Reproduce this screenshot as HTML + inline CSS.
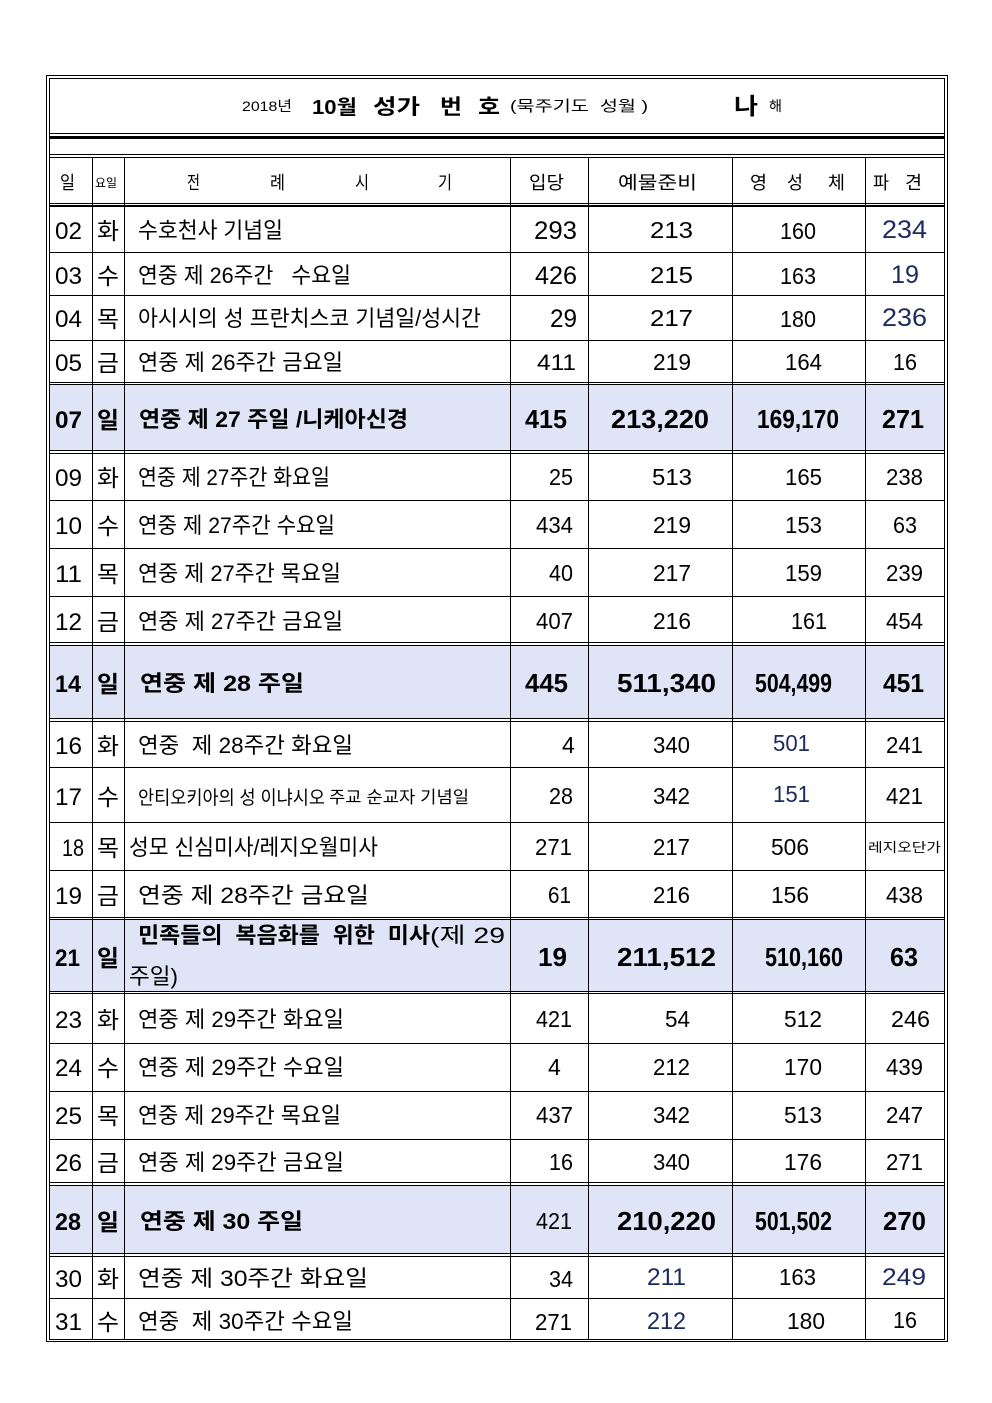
<!DOCTYPE html>
<html><head><meta charset="utf-8">
<style>
html,body{margin:0;padding:0;background:#fff;}
svg{display:block;}
text{font-family:"Liberation Sans","Noto Sans CJK KR","NanumGothic",sans-serif;fill:#000;white-space:pre;}
.b{font-weight:bold;}
.nv{fill:#1c2a5e;}
</style></head>
<body>
<svg width="992" height="1403" viewBox="0 0 992 1403" xmlns="http://www.w3.org/2000/svg" shape-rendering="crispEdges" xml:space="preserve">
<rect x="0" y="0" width="992" height="1403" fill="#fff"/>
<g fill="#dfe4f7">
<rect x="50" y="385" width="894" height="65"/>
<rect x="50" y="646" width="894" height="72"/>
<rect x="50" y="920" width="894" height="71"/>
<rect x="50" y="1186" width="894" height="67"/>
</g>
<g fill="#000">
<rect x="46" y="75" width="902" height="1"/>
<rect x="46" y="75" width="1" height="1267"/>
<rect x="947" y="75" width="1" height="1267"/>
<rect x="46" y="1341" width="902" height="1"/>
<rect x="49" y="78" width="896" height="1"/>
<rect x="49" y="78" width="1" height="1262"/>
<rect x="944" y="78" width="1" height="1262"/>
<rect x="49" y="1339" width="896" height="1"/>
<rect x="49" y="133" width="896" height="1"/>
<rect x="49" y="136" width="896" height="3"/>
<rect x="49" y="154" width="896" height="1"/>
<rect x="49" y="157" width="896" height="1"/>
<rect x="49" y="203" width="896" height="1"/>
<rect x="49" y="205" width="896" height="2"/>
<rect x="92" y="157" width="1" height="1182"/>
<rect x="124" y="157" width="1" height="1182"/>
<rect x="510" y="157" width="1" height="1182"/>
<rect x="588" y="157" width="1" height="1182"/>
<rect x="732" y="157" width="1" height="1182"/>
<rect x="865" y="157" width="1" height="1182"/>
<rect x="49" y="252" width="896" height="1"/>
<rect x="49" y="295" width="896" height="1"/>
<rect x="49" y="340" width="896" height="1"/>
<rect x="49" y="382" width="896" height="1"/>
<rect x="49" y="384" width="896" height="1"/>
<rect x="49" y="450" width="896" height="1"/>
<rect x="49" y="453" width="896" height="1"/>
<rect x="49" y="500" width="896" height="1"/>
<rect x="49" y="548" width="896" height="1"/>
<rect x="49" y="596" width="896" height="1"/>
<rect x="49" y="642" width="896" height="1"/>
<rect x="49" y="645" width="896" height="1"/>
<rect x="49" y="718" width="896" height="1"/>
<rect x="49" y="721" width="896" height="1"/>
<rect x="49" y="767" width="896" height="1"/>
<rect x="49" y="822" width="896" height="1"/>
<rect x="49" y="870" width="896" height="1"/>
<rect x="49" y="917" width="896" height="1"/>
<rect x="49" y="919" width="896" height="1"/>
<rect x="49" y="991" width="896" height="1"/>
<rect x="49" y="993" width="896" height="1"/>
<rect x="49" y="1043" width="896" height="1"/>
<rect x="49" y="1091" width="896" height="1"/>
<rect x="49" y="1139" width="896" height="1"/>
<rect x="49" y="1182" width="896" height="1"/>
<rect x="49" y="1185" width="896" height="1"/>
<rect x="49" y="1253" width="896" height="1"/>
<rect x="49" y="1256" width="896" height="1"/>
<rect x="49" y="1298" width="896" height="1"/>
</g>

<g>
<text x="242" y="111" font-size="14" textLength="50" lengthAdjust="spacingAndGlyphs">2018년</text>
<text class="b" x="312" y="114" font-size="20" textLength="45" lengthAdjust="spacingAndGlyphs">10월</text>
<text class="b" x="373" y="114" font-size="21" textLength="47" lengthAdjust="spacingAndGlyphs">성가</text>
<text class="b" x="440" y="114" font-size="21" textLength="22" lengthAdjust="spacingAndGlyphs">번</text>
<text class="b" x="478" y="114" font-size="21" textLength="22" lengthAdjust="spacingAndGlyphs">호</text>
<text x="510" y="111" font-size="15" textLength="138" lengthAdjust="spacingAndGlyphs">(묵주기도  성월 )</text>
<text class="b" x="734" y="114" font-size="23" textLength="24" lengthAdjust="spacingAndGlyphs">나</text>
<text x="769" y="111" font-size="14" textLength="13" lengthAdjust="spacingAndGlyphs">해</text>

<text x="60" y="189" font-size="18" textLength="15" lengthAdjust="spacingAndGlyphs">일</text>
<text x="95" y="187" font-size="12" textLength="22" lengthAdjust="spacingAndGlyphs">요일</text>
<text x="187" y="189" font-size="18" textLength="13" lengthAdjust="spacingAndGlyphs">전</text>
<text x="270" y="189" font-size="18" textLength="15" lengthAdjust="spacingAndGlyphs">례</text>
<text x="355" y="189" font-size="18" textLength="14" lengthAdjust="spacingAndGlyphs">시</text>
<text x="438" y="189" font-size="18" textLength="14" lengthAdjust="spacingAndGlyphs">기</text>
<text x="529" y="189" font-size="18" textLength="35" lengthAdjust="spacingAndGlyphs">입당</text>
<text x="618" y="189" font-size="18" textLength="79" lengthAdjust="spacingAndGlyphs">예물준비</text>
<text x="750" y="189" font-size="18" textLength="17" lengthAdjust="spacingAndGlyphs">영</text>
<text x="787" y="189" font-size="18" textLength="16" lengthAdjust="spacingAndGlyphs">성</text>
<text x="828" y="189" font-size="18" textLength="17" lengthAdjust="spacingAndGlyphs">체</text>
<text x="873" y="189" font-size="18" textLength="16" lengthAdjust="spacingAndGlyphs">파</text>
<text x="905" y="189" font-size="18" textLength="17" lengthAdjust="spacingAndGlyphs">견</text>

<text x="55" y="239" font-size="24" textLength="27" lengthAdjust="spacingAndGlyphs">02</text>
<text x="97" y="239" font-size="23" textLength="22" lengthAdjust="spacingAndGlyphs">화</text>
<text x="138" y="238" font-size="22" textLength="145" lengthAdjust="spacingAndGlyphs">수호천사 기념일</text>
<text x="534" y="239" font-size="25" textLength="43" lengthAdjust="spacingAndGlyphs">293</text>
<text x="650" y="238" font-size="23" textLength="43" lengthAdjust="spacingAndGlyphs">213</text>
<text x="780" y="239" font-size="23" textLength="36" lengthAdjust="spacingAndGlyphs">160</text>
<text class="nv" x="882" y="238" font-size="25" textLength="45" lengthAdjust="spacingAndGlyphs">234</text>

<text x="55" y="284" font-size="24" textLength="27" lengthAdjust="spacingAndGlyphs">03</text>
<text x="97" y="284" font-size="23" textLength="22" lengthAdjust="spacingAndGlyphs">수</text>
<text x="138" y="283" font-size="22" textLength="213" lengthAdjust="spacingAndGlyphs">연중 제 26주간   수요일</text>
<text x="535" y="284" font-size="25" textLength="42" lengthAdjust="spacingAndGlyphs">426</text>
<text x="650" y="283" font-size="23" textLength="43" lengthAdjust="spacingAndGlyphs">215</text>
<text x="780" y="284" font-size="23" textLength="36" lengthAdjust="spacingAndGlyphs">163</text>
<text class="nv" x="891" y="283" font-size="25" textLength="28" lengthAdjust="spacingAndGlyphs">19</text>

<text x="55" y="327" font-size="24" textLength="27" lengthAdjust="spacingAndGlyphs">04</text>
<text x="97" y="327" font-size="23" textLength="22" lengthAdjust="spacingAndGlyphs">목</text>
<text x="138" y="326" font-size="22" textLength="343" lengthAdjust="spacingAndGlyphs">아시시의 성 프란치스코 기념일/성시간</text>
<text x="550" y="327" font-size="25" textLength="27" lengthAdjust="spacingAndGlyphs">29</text>
<text x="650" y="326" font-size="23" textLength="43" lengthAdjust="spacingAndGlyphs">217</text>
<text x="780" y="327" font-size="23" textLength="36" lengthAdjust="spacingAndGlyphs">180</text>
<text class="nv" x="882" y="326" font-size="25" textLength="45" lengthAdjust="spacingAndGlyphs">236</text>

<text x="55" y="371" font-size="24" textLength="27" lengthAdjust="spacingAndGlyphs">05</text>
<text x="97" y="371" font-size="23" textLength="22" lengthAdjust="spacingAndGlyphs">금</text>
<text x="138" y="370" font-size="22" textLength="205" lengthAdjust="spacingAndGlyphs">연중 제 26주간 금요일</text>
<text x="537" y="370" font-size="22" textLength="39" lengthAdjust="spacingAndGlyphs">411</text>
<text x="653" y="370" font-size="23" textLength="38" lengthAdjust="spacingAndGlyphs">219</text>
<text x="785" y="370" font-size="23" textLength="37" lengthAdjust="spacingAndGlyphs">164</text>
<text x="893" y="370" font-size="23" textLength="24" lengthAdjust="spacingAndGlyphs">16</text>

<text class="b" x="55" y="428" font-size="24" textLength="27" lengthAdjust="spacingAndGlyphs">07</text>
<text class="b" x="97" y="428" font-size="23" textLength="22" lengthAdjust="spacingAndGlyphs">일</text>
<text class="b" x="139" y="427" font-size="22" textLength="269" lengthAdjust="spacingAndGlyphs">연중 제 27 주일 /니케아신경</text>
<text class="b" x="525" y="428" font-size="26" textLength="42" lengthAdjust="spacingAndGlyphs">415</text>
<text class="b" x="611" y="428" font-size="26" textLength="98" lengthAdjust="spacingAndGlyphs">213,220</text>
<text class="b" x="757" y="428" font-size="26" textLength="82" lengthAdjust="spacingAndGlyphs">169,170</text>
<text class="b" x="882" y="428" font-size="26" textLength="42" lengthAdjust="spacingAndGlyphs">271</text>

<text x="55" y="486" font-size="24" textLength="27" lengthAdjust="spacingAndGlyphs">09</text>
<text x="97" y="486" font-size="23" textLength="22" lengthAdjust="spacingAndGlyphs">화</text>
<text x="138" y="485" font-size="22" textLength="192" lengthAdjust="spacingAndGlyphs">연중 제 27주간 화요일</text>
<text x="549" y="485" font-size="23" textLength="24" lengthAdjust="spacingAndGlyphs">25</text>
<text x="652" y="485" font-size="23" textLength="40" lengthAdjust="spacingAndGlyphs">513</text>
<text x="785" y="485" font-size="23" textLength="37" lengthAdjust="spacingAndGlyphs">165</text>
<text x="886" y="485" font-size="23" textLength="37" lengthAdjust="spacingAndGlyphs">238</text>

<text x="55" y="534" font-size="24" textLength="27" lengthAdjust="spacingAndGlyphs">10</text>
<text x="97" y="534" font-size="23" textLength="22" lengthAdjust="spacingAndGlyphs">수</text>
<text x="138" y="533" font-size="22" textLength="197" lengthAdjust="spacingAndGlyphs">연중 제 27주간 수요일</text>
<text x="536" y="533" font-size="23" textLength="37" lengthAdjust="spacingAndGlyphs">434</text>
<text x="653" y="533" font-size="23" textLength="38" lengthAdjust="spacingAndGlyphs">219</text>
<text x="785" y="533" font-size="23" textLength="37" lengthAdjust="spacingAndGlyphs">153</text>
<text x="893" y="533" font-size="23" textLength="24" lengthAdjust="spacingAndGlyphs">63</text>

<text x="55" y="582" font-size="24" textLength="27" lengthAdjust="spacingAndGlyphs">11</text>
<text x="97" y="582" font-size="23" textLength="22" lengthAdjust="spacingAndGlyphs">목</text>
<text x="138" y="581" font-size="22" textLength="203" lengthAdjust="spacingAndGlyphs">연중 제 27주간 목요일</text>
<text x="549" y="581" font-size="23" textLength="24" lengthAdjust="spacingAndGlyphs">40</text>
<text x="653" y="581" font-size="23" textLength="38" lengthAdjust="spacingAndGlyphs">217</text>
<text x="785" y="581" font-size="23" textLength="37" lengthAdjust="spacingAndGlyphs">159</text>
<text x="886" y="581" font-size="23" textLength="37" lengthAdjust="spacingAndGlyphs">239</text>

<text x="55" y="630" font-size="24" textLength="27" lengthAdjust="spacingAndGlyphs">12</text>
<text x="97" y="630" font-size="23" textLength="22" lengthAdjust="spacingAndGlyphs">금</text>
<text x="138" y="629" font-size="22" textLength="205" lengthAdjust="spacingAndGlyphs">연중 제 27주간 금요일</text>
<text x="536" y="629" font-size="23" textLength="37" lengthAdjust="spacingAndGlyphs">407</text>
<text x="653" y="629" font-size="23" textLength="38" lengthAdjust="spacingAndGlyphs">216</text>
<text x="791" y="629" font-size="23" textLength="36" lengthAdjust="spacingAndGlyphs">161</text>
<text x="886" y="629" font-size="23" textLength="37" lengthAdjust="spacingAndGlyphs">454</text>

<text class="b" x="55" y="692" font-size="24" textLength="26" lengthAdjust="spacingAndGlyphs">14</text>
<text class="b" x="97" y="692" font-size="23" textLength="22" lengthAdjust="spacingAndGlyphs">일</text>
<text class="b" x="140" y="691" font-size="22" textLength="164" lengthAdjust="spacingAndGlyphs">연중 제 28 주일</text>
<text class="b" x="525" y="692" font-size="26" textLength="43" lengthAdjust="spacingAndGlyphs">445</text>
<text class="b" x="617" y="692" font-size="26" textLength="99" lengthAdjust="spacingAndGlyphs">511,340</text>
<text class="b" x="755" y="692" font-size="26" textLength="77" lengthAdjust="spacingAndGlyphs">504,499</text>
<text class="b" x="883" y="692" font-size="26" textLength="41" lengthAdjust="spacingAndGlyphs">451</text>

<text x="55" y="754" font-size="24" textLength="27" lengthAdjust="spacingAndGlyphs">16</text>
<text x="97" y="754" font-size="23" textLength="22" lengthAdjust="spacingAndGlyphs">화</text>
<text x="138" y="753" font-size="22" textLength="215" lengthAdjust="spacingAndGlyphs">연중  제 28주간 화요일</text>
<text x="562" y="753" font-size="23">4</text>
<text x="653" y="753" font-size="23" textLength="37" lengthAdjust="spacingAndGlyphs">340</text>
<text class="nv" x="773" y="751" font-size="23" textLength="37" lengthAdjust="spacingAndGlyphs">501</text>
<text x="886" y="753" font-size="23" textLength="37" lengthAdjust="spacingAndGlyphs">241</text>

<text x="55" y="805" font-size="24" textLength="27" lengthAdjust="spacingAndGlyphs">17</text>
<text x="97" y="805" font-size="23" textLength="22" lengthAdjust="spacingAndGlyphs">수</text>
<text x="138" y="804" font-size="19" textLength="187" lengthAdjust="spacingAndGlyphs">안티오키아의 성 이냐시오</text>
<text x="329" y="803" font-size="17" textLength="140" lengthAdjust="spacingAndGlyphs">주교 순교자 기념일</text>
<text x="549" y="804" font-size="23" textLength="24" lengthAdjust="spacingAndGlyphs">28</text>
<text x="653" y="804" font-size="23" textLength="37" lengthAdjust="spacingAndGlyphs">342</text>
<text class="nv" x="773" y="802" font-size="23" textLength="37" lengthAdjust="spacingAndGlyphs">151</text>
<text x="886" y="804" font-size="23" textLength="37" lengthAdjust="spacingAndGlyphs">421</text>

<text x="62" y="856" font-size="24" textLength="22" lengthAdjust="spacingAndGlyphs">18</text>
<text x="97" y="856" font-size="23" textLength="22" lengthAdjust="spacingAndGlyphs">목</text>
<text x="129" y="855" font-size="22" textLength="249" lengthAdjust="spacingAndGlyphs">성모 신심미사/레지오월미사</text>
<text x="535" y="855" font-size="23" textLength="37" lengthAdjust="spacingAndGlyphs">271</text>
<text x="653" y="855" font-size="23" textLength="37" lengthAdjust="spacingAndGlyphs">217</text>
<text x="771" y="855" font-size="23" textLength="38" lengthAdjust="spacingAndGlyphs">506</text>
<text x="868" y="852" font-size="13" textLength="73" lengthAdjust="spacingAndGlyphs">레지오단가</text>

<text x="55" y="904" font-size="24" textLength="27" lengthAdjust="spacingAndGlyphs">19</text>
<text x="97" y="904" font-size="23" textLength="22" lengthAdjust="spacingAndGlyphs">금</text>
<text x="138" y="903" font-size="22" textLength="231" lengthAdjust="spacingAndGlyphs">연중 제 28주간 금요일</text>
<text x="548" y="903" font-size="23" textLength="23" lengthAdjust="spacingAndGlyphs">61</text>
<text x="653" y="903" font-size="23" textLength="37" lengthAdjust="spacingAndGlyphs">216</text>
<text x="771" y="903" font-size="23" textLength="38" lengthAdjust="spacingAndGlyphs">156</text>
<text x="886" y="903" font-size="23" textLength="37" lengthAdjust="spacingAndGlyphs">438</text>

<text class="b" x="55" y="966" font-size="24" textLength="25" lengthAdjust="spacingAndGlyphs">21</text>
<text class="b" x="97" y="966" font-size="23" textLength="22" lengthAdjust="spacingAndGlyphs">일</text>
<text class="b" x="138" y="943" font-size="22" textLength="292" lengthAdjust="spacingAndGlyphs">민족들의  복음화를  위한  미사</text>
<text x="430" y="943" font-size="22" textLength="75" lengthAdjust="spacingAndGlyphs">(제 29</text>
<text x="129" y="984" font-size="22" textLength="49" lengthAdjust="spacingAndGlyphs">주일)</text>
<text class="b" x="538" y="966" font-size="26" textLength="29" lengthAdjust="spacingAndGlyphs">19</text>
<text class="b" x="617" y="966" font-size="26" textLength="99" lengthAdjust="spacingAndGlyphs">211,512</text>
<text class="b" x="765" y="966" font-size="26" textLength="78" lengthAdjust="spacingAndGlyphs">510,160</text>
<text class="b" x="890" y="966" font-size="26" textLength="28" lengthAdjust="spacingAndGlyphs">63</text>

<text x="55" y="1028" font-size="24" textLength="27" lengthAdjust="spacingAndGlyphs">23</text>
<text x="97" y="1028" font-size="23" textLength="22" lengthAdjust="spacingAndGlyphs">화</text>
<text x="138" y="1027" font-size="22" textLength="206" lengthAdjust="spacingAndGlyphs">연중 제 29주간 화요일</text>
<text x="536" y="1027" font-size="23" textLength="36" lengthAdjust="spacingAndGlyphs">421</text>
<text x="665" y="1027" font-size="23" textLength="25" lengthAdjust="spacingAndGlyphs">54</text>
<text x="784" y="1027" font-size="23" textLength="38" lengthAdjust="spacingAndGlyphs">512</text>
<text x="891" y="1027" font-size="23" textLength="39" lengthAdjust="spacingAndGlyphs">246</text>

<text x="55" y="1076" font-size="24" textLength="27" lengthAdjust="spacingAndGlyphs">24</text>
<text x="97" y="1076" font-size="23" textLength="22" lengthAdjust="spacingAndGlyphs">수</text>
<text x="138" y="1075" font-size="22" textLength="206" lengthAdjust="spacingAndGlyphs">연중 제 29주간 수요일</text>
<text x="548" y="1075" font-size="23">4</text>
<text x="653" y="1075" font-size="23" textLength="37" lengthAdjust="spacingAndGlyphs">212</text>
<text x="784" y="1075" font-size="23" textLength="38" lengthAdjust="spacingAndGlyphs">170</text>
<text x="886" y="1075" font-size="23" textLength="37" lengthAdjust="spacingAndGlyphs">439</text>

<text x="55" y="1124" font-size="24" textLength="27" lengthAdjust="spacingAndGlyphs">25</text>
<text x="97" y="1124" font-size="23" textLength="22" lengthAdjust="spacingAndGlyphs">목</text>
<text x="138" y="1123" font-size="22" textLength="203" lengthAdjust="spacingAndGlyphs">연중 제 29주간 목요일</text>
<text x="536" y="1123" font-size="23" textLength="37" lengthAdjust="spacingAndGlyphs">437</text>
<text x="653" y="1123" font-size="23" textLength="37" lengthAdjust="spacingAndGlyphs">342</text>
<text x="784" y="1123" font-size="23" textLength="38" lengthAdjust="spacingAndGlyphs">513</text>
<text x="886" y="1123" font-size="23" textLength="37" lengthAdjust="spacingAndGlyphs">247</text>

<text x="55" y="1171" font-size="24" textLength="27" lengthAdjust="spacingAndGlyphs">26</text>
<text x="97" y="1171" font-size="23" textLength="22" lengthAdjust="spacingAndGlyphs">금</text>
<text x="138" y="1170" font-size="22" textLength="206" lengthAdjust="spacingAndGlyphs">연중 제 29주간 금요일</text>
<text x="549" y="1170" font-size="23" textLength="24" lengthAdjust="spacingAndGlyphs">16</text>
<text x="653" y="1170" font-size="23" textLength="37" lengthAdjust="spacingAndGlyphs">340</text>
<text x="784" y="1170" font-size="23" textLength="38" lengthAdjust="spacingAndGlyphs">176</text>
<text x="886" y="1170" font-size="23" textLength="37" lengthAdjust="spacingAndGlyphs">271</text>

<text class="b" x="55" y="1230" font-size="24" textLength="26" lengthAdjust="spacingAndGlyphs">28</text>
<text class="b" x="97" y="1230" font-size="23" textLength="22" lengthAdjust="spacingAndGlyphs">일</text>
<text class="b" x="140" y="1229" font-size="22" textLength="163" lengthAdjust="spacingAndGlyphs">연중 제 30 주일</text>
<text x="536" y="1229" font-size="23" textLength="36" lengthAdjust="spacingAndGlyphs">421</text>
<text class="b" x="617" y="1230" font-size="26" textLength="99" lengthAdjust="spacingAndGlyphs">210,220</text>
<text class="b" x="755" y="1230" font-size="26" textLength="77" lengthAdjust="spacingAndGlyphs">501,502</text>
<text class="b" x="883" y="1230" font-size="26" textLength="43" lengthAdjust="spacingAndGlyphs">270</text>

<text x="55" y="1287" font-size="24" textLength="27" lengthAdjust="spacingAndGlyphs">30</text>
<text x="97" y="1287" font-size="23" textLength="22" lengthAdjust="spacingAndGlyphs">화</text>
<text x="138" y="1286" font-size="22" textLength="230" lengthAdjust="spacingAndGlyphs">연중 제 30주간 화요일</text>
<text x="549" y="1287" font-size="23" textLength="24" lengthAdjust="spacingAndGlyphs">34</text>
<text class="nv" x="647" y="1285" font-size="24" textLength="39" lengthAdjust="spacingAndGlyphs">211</text>
<text x="779" y="1285" font-size="23" textLength="37" lengthAdjust="spacingAndGlyphs">163</text>
<text class="nv" x="882" y="1285" font-size="24" textLength="44" lengthAdjust="spacingAndGlyphs">249</text>

<text x="55" y="1330" font-size="24" textLength="27" lengthAdjust="spacingAndGlyphs">31</text>
<text x="97" y="1330" font-size="23" textLength="22" lengthAdjust="spacingAndGlyphs">수</text>
<text x="138" y="1329" font-size="22" textLength="215" lengthAdjust="spacingAndGlyphs">연중  제 30주간 수요일</text>
<text x="535" y="1330" font-size="23" textLength="37" lengthAdjust="spacingAndGlyphs">271</text>
<text class="nv" x="647" y="1329" font-size="24" textLength="39" lengthAdjust="spacingAndGlyphs">212</text>
<text x="787" y="1329" font-size="23" textLength="38" lengthAdjust="spacingAndGlyphs">180</text>
<text x="893" y="1328" font-size="23" textLength="24" lengthAdjust="spacingAndGlyphs">16</text>
</g>
</svg>
</body></html>
